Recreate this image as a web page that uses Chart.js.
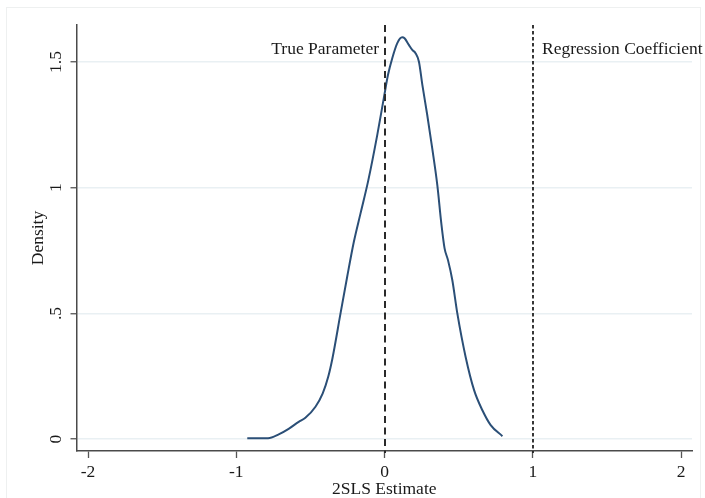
<!DOCTYPE html>
<html>
<head>
<meta charset="utf-8">
<script src="https://cdn.jsdelivr.net/npm/chart.js@4/dist/chart.umd.min.js"></script>
<style>
  html, body { margin: 0; padding: 0; background: #ffffff; }
  #wrap { width: 705px; height: 498px; position: relative; }
</style>
</head>
<body>
<div id="wrap"><canvas id="c" width="705" height="498"></canvas></div>
<script>
// ---- data ----
const estimateX = [-0.926, -0.786, -0.714, -0.647, -0.579, -0.534, -0.466, -0.417, -0.380, -0.352,
                   -0.297, -0.252, -0.207, -0.162, -0.110, -0.049, -0.005, 0.023, 0.052, 0.086,
                   0.119, 0.135, 0.164, 0.187, 0.209, 0.232, 0.255, 0.288, 0.322, 0.356,
                   0.383, 0.405, 0.428, 0.457, 0.491, 0.547, 0.604, 0.660, 0.716, 0.795];
const densityY  = [0.004, 0.004, 0.019, 0.041, 0.069, 0.085, 0.129, 0.182, 0.248, 0.320,
                   0.500, 0.646, 0.785, 0.898, 1.028, 1.210, 1.356, 1.448, 1.515, 1.575,
                   1.598, 1.594, 1.568, 1.548, 1.535, 1.501, 1.409, 1.289, 1.155, 1.010,
                   0.858, 0.759, 0.712, 0.633, 0.500, 0.327, 0.195, 0.115, 0.056, 0.012];
const xTickValues = [-2, -1, 0, 1, 2];
const xTickLabels = ['-2', '-1', '0', '1', '2'];
const yTickValues = [0, 0.5, 1, 1.5];
const yTickLabels = ['0', '.5', '1', '1.5'];
const refLineValues = [0, 1];
const refLineLabels = ['True Parameter', 'Regression Coefficient'];
const refLabelY = 1.55;

const points = estimateX.map((x, i) => ({ x: x, y: densityY[i] }));
const SERIF = '"Liberation Serif", "Times New Roman", serif';
const TEXT = '#1a1a1a';
const FS = 17.5;

const refLinesPlugin = {
  id: 'refLines',
  beforeDraw(chart) {
    const ctx = chart.ctx;
    ctx.save();
    ctx.fillStyle = '#ffffff';
    ctx.fillRect(0, 0, chart.width, chart.height);
    ctx.strokeStyle = '#eef0f0';
    ctx.lineWidth = 1;
    ctx.strokeRect(6.5, 7.5, 694, 500);
    ctx.restore();
  },
  afterDatasetsDraw(chart) {
    const ctx = chart.ctx;
    const xs = chart.scales.x, ys = chart.scales.y;
    const area = chart.chartArea;
    const styles = [
      { dash: [7, 4.5], width: 2, color: '#2a2a2a' },
      { dash: [3.5, 2.5], width: 1.8, color: '#222222' }
    ];
    refLineValues.forEach((v, i) => {
      const px = Math.round(xs.getPixelForValue(v));
      const st = styles[i];
      ctx.save();
      ctx.strokeStyle = st.color;
      ctx.lineWidth = st.width;
      ctx.setLineDash(st.dash);
      ctx.beginPath();
      ctx.moveTo(px, area.top);
      ctx.lineTo(px, area.bottom + 2);
      ctx.stroke();
      ctx.restore();

      ctx.save();
      ctx.font = FS + 'px ' + SERIF;
      ctx.fillStyle = TEXT;
      ctx.textBaseline = 'middle';
      const py = ys.getPixelForValue(refLabelY);
      if (i === 0) {
        ctx.textAlign = 'right';
        ctx.fillText(refLineLabels[i], px - 6, py);
      } else {
        ctx.textAlign = 'left';
        ctx.fillText(refLineLabels[i], px + 9, py);
      }
      ctx.restore();
    });
  }
};

new Chart(document.getElementById('c'), {
  type: 'line',
  data: {
    datasets: [{
      data: points,
      borderColor: '#2b4f77',
      borderWidth: 2,
      pointRadius: 0,
      fill: false,
      cubicInterpolationMode: 'monotone'
    }]
  },
  options: {
    responsive: false,
    animation: false,
    devicePixelRatio: 1,
    layout: { padding: { top: 25, right: 13, left: 0, bottom: 0 } },
    plugins: { legend: { display: false }, tooltip: { enabled: false } },
    scales: {
      x: {
        type: 'linear',
        min: -2.078,
        max: 2.074,
        afterBuildTicks: (s) => { s.ticks = xTickValues.map(v => ({ value: v })); },
        afterFit: (s) => { s.height = 47; },
        ticks: {
          color: TEXT,
          padding: 6,
          font: { family: SERIF, size: FS, lineHeight: 1 },
          callback: (v) => { const i = xTickValues.indexOf(v); return i >= 0 ? xTickLabels[i] : ''; },
          maxRotation: 0, minRotation: 0
        },
        grid: { display: true, drawOnChartArea: false, drawTicks: true, tickLength: 7, tickColor: '#555555', tickWidth: 1.3 },
        border: { display: true, color: '#4a4a4a', width: 1.5 },
        title: { display: true, text: '2SLS Estimate', color: TEXT, font: { family: SERIF, size: FS, lineHeight: 1 }, padding: { top: 0, bottom: 0 } }
      },
      y: {
        type: 'linear',
        min: -0.047,
        max: 1.647,
        afterBuildTicks: (s) => { s.ticks = yTickValues.map(v => ({ value: v })); },
        afterFit: (s) => { s.width = 76.5; },
        ticks: {
          color: TEXT,
          padding: 3,
          crossAlign: 'center',
          minRotation: 90, maxRotation: 90,
          font: { family: SERIF, size: FS, lineHeight: 1 },
          callback: (v) => { const i = yTickValues.indexOf(v); return i >= 0 ? yTickLabels[i] : ''; }
        },
        grid: { display: true, drawOnChartArea: true, drawTicks: true, tickLength: 6, color: '#e9f0f3', lineWidth: 1.5, tickColor: '#555555', tickWidth: 1.3 },
        border: { display: true, color: '#4a4a4a', width: 1.5 },
        title: { display: true, text: 'Density', color: TEXT, font: { family: SERIF, size: FS, lineHeight: 1 }, padding: { top: 29.5, bottom: 0 } }
      }
    }
  },
  plugins: [refLinesPlugin]
});
</script>
</body>
</html>
